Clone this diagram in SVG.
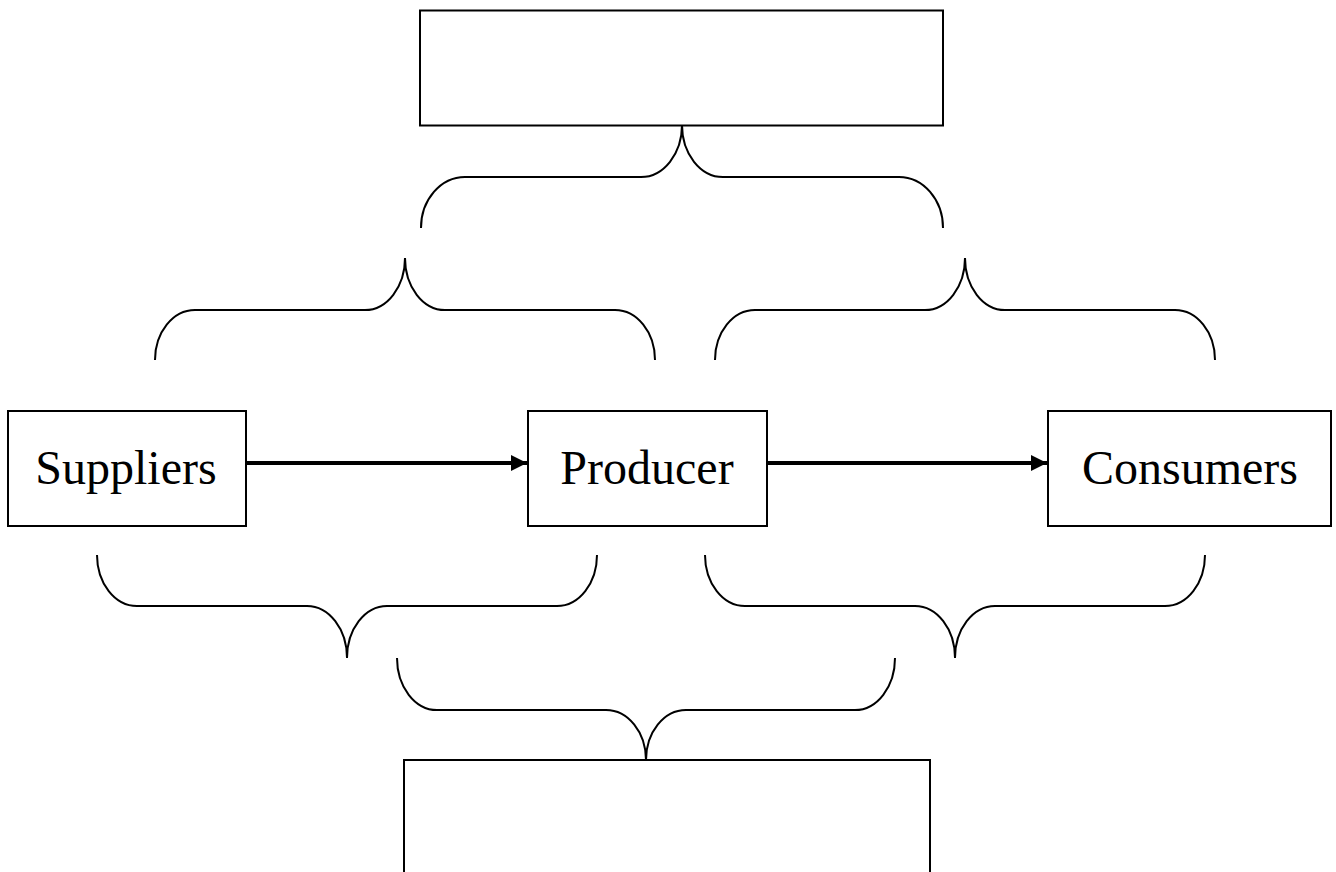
<svg xmlns="http://www.w3.org/2000/svg" width="1336" height="872" viewBox="0 0 1336 872">
<defs>
<style>
.box{fill:#fff;stroke:#000;stroke-width:2}
.brace{fill:none;stroke:#000;stroke-width:2}
.lbl{font-family:"Liberation Serif","Times New Roman",serif;font-size:48px;fill:#000;text-anchor:middle}
.arr{stroke:#000;stroke-width:4;fill:none}
</style>
<marker id="ah" markerWidth="16" markerHeight="16" refX="16" refY="8" orient="auto" markerUnits="userSpaceOnUse">
<path d="M0,0 L16,8 L0,16 Z" fill="#000"/>
</marker>
</defs>
<rect width="1336" height="872" fill="#fff"/>
<g id="top-box"><rect class="box" x="420" y="10.5" width="523" height="115"/></g>
<g id="suppliers"><rect class="box" x="8" y="411" width="238" height="115"/><text class="lbl" x="126" y="484">Suppliers</text></g>
<g id="producer"><rect class="box" x="528" y="411" width="239" height="115"/><text class="lbl" x="647" y="484">Producer</text></g>
<g id="consumers"><rect class="box" x="1048" y="411" width="283" height="115"/><text class="lbl" x="1190" y="484">Consumers</text></g>
<g id="bottom-box"><rect class="box" x="404" y="760" width="526" height="130"/></g>
<g id="braces">
<path class="brace" d="M421,228 A44 51 0 0 1 465,177 L641,177 A41 52 0 0 0 682,125 A41 52 0 0 0 723,177 L899,177 A44 51 0 0 1 943,228"/>
<path class="brace" d="M155,360 A40 50 0 0 1 195,310 L365,310 A40 52 0 0 0 405,258 A40 52 0 0 0 445,310 L615,310 A40 50 0 0 1 655,360"/>
<path class="brace" d="M715,360 A40 50 0 0 1 755,310 L925,310 A40 52 0 0 0 965,258 A40 52 0 0 0 1005,310 L1175,310 A40 50 0 0 1 1215,360"/>
<path class="brace" d="M97,555 A40 51 0 0 0 137,606 L307,606 A40 52 0 0 1 347,658 A40 52 0 0 1 387,606 L557,606 A40 51 0 0 0 597,555"/>
<path class="brace" d="M705,555 A40 51 0 0 0 745,606 L915,606 A40 52 0 0 1 955,658 A40 52 0 0 1 995,606 L1165,606 A40 51 0 0 0 1205,555"/>
<path class="brace" d="M397,658 A40 52 0 0 0 437,710 L606,710 A40 50 0 0 1 646,760 A40 50 0 0 1 686,710 L855,710 A40 52 0 0 0 895,658"/>
</g>
<g id="connectors">
<line class="arr" x1="246" y1="463" x2="527" y2="463" marker-end="url(#ah)"/>
<line class="arr" x1="767" y1="463" x2="1047" y2="463" marker-end="url(#ah)"/>
</g>
</svg>
